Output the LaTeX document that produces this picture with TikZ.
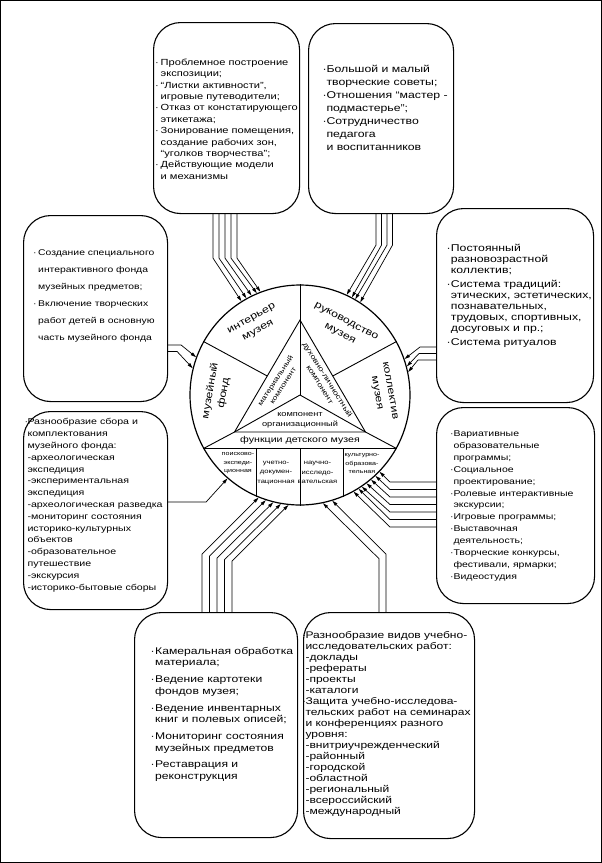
\documentclass[tikz,border=0pt]{standalone}
\usepackage{fontspec}
\setmainfont{Liberation Sans}[FakeStretch=1.25]
\usetikzlibrary{arrows.meta,calc}
\newlength\bulw
\newcommand\bul{\makebox[\bulw][l]{·}}
\newcommand\idt{\hspace*{\bulw}}
\newcommand\myfs[3]{\fontsize{#1}{#2}\selectfont\setlength\bulw{#3}}
\newcommand\mystrut{\rule{0pt}{9.5pt}}
\begin{document}
\begin{tikzpicture}[x=1pt,y=-1pt,
  box/.style={draw, line width=1.1pt, rounded corners=27pt, inner sep=0pt, anchor=north west},
  txt/.style={anchor=north west, inner sep=0pt, align=left},
  arr/.style={line width=0.7pt, -{Triangle[length=5.5pt,width=3.2pt]}},
  lab/.style={inner sep=0pt, align=center},
  ln/.style={line width=0.9pt}]
\useasboundingbox (0,0) rectangle (602,863);
\draw[line width=1pt] (0.5,0.5) rectangle (601.5,862.5);

% boxes
\node[box, minimum width=146pt, minimum height=191pt] (b1) at (153,22) {};
\node[box, minimum width=145pt, minimum height=190pt] (b2) at (308,23) {};
\node[box, minimum width=144pt, minimum height=186pt] (b3) at (23,215) {};
\node[box, minimum width=157pt, minimum height=194pt] (b4) at (436,208) {};
\node[box, minimum width=144pt, minimum height=198pt] (b5) at (23,411) {};
\node[box, minimum width=158pt, minimum height=196pt] (b6) at (436,407) {};
\node[box, minimum width=163pt, minimum height=225pt] (b7) at (134,612) {};
\node[box, minimum width=171pt, minimum height=226pt] (b8) at (303,612) {};

% texts
\node[txt, font=\myfs{8.87}{11.4}{5.5pt}] (t1) at (155,55.5) {\mystrut\bul Проблемное построение\\
\idt экспозиции;\\
\bul “Листки активности”,\\
\idt игровые путеводители;\\
\bul Отказ от констатирующего\\
\idt этикетажа;\\
\bul Зонирование помещения,\\
\idt создание рабочих зон,\\
\idt “уголков творчества”;\\
\bul Действующие модели\\
\idt и механизмы};

\node[txt, font=\myfs{9.82}{13.1}{3.8pt}] (t2) at (322.5,62.5) {\mystrut\bul Большой и малый\\
\idt творческие советы;\\
\bul Отношения “мастер -\\
\idt подмастерье”;\\
\bul Сотрудничество\\
\idt педагога\\
\idt и воспитанников};

\node[txt, font=\myfs{8.31}{17}{5pt}] (t3) at (33,245.5) {\mystrut\bul Создание специального\\
\idt интерактивного фонда\\
\idt музейных предметов;\\
\bul Включение творческих\\
\idt работ детей в основную\\
\idt часть музейного фонда};

\node[txt, font=\myfs{9.82}{11.2}{4.2pt}] (t4) at (446.5,241.8) {\mystrut\bul Постоянный\\
\idt разновозрастной\\
\idt коллектив;\\[2pt]
\bul Система традиций:\\
\idt этических, эстетических,\\
\idt познавательных,\\
\idt трудовых, спортивных,\\
\idt досуговых и пр.;\\[2pt]
\bul Система ритуалов};

\node[txt, font=\myfs{8.5}{11.8}{3pt}] (t5) at (24.3,415.2) {\mystrut\bul Разнообразие сбора и\\
\idt комплектования\\
\idt музейного фонда:\\
\idt -археологическая\\
\idt экспедиция\\
\idt -экспериментальная\\
\idt экспедиция\\
\idt -археологическая разведка\\
\idt -мониторинг состояния\\
\idt историко-культурных\\
\idt объектов\\
\idt -образовательное\\
\idt путешествие\\
\idt -экскурсия\\
\idt -историко-бытовые сборы};

\node[txt, font=\myfs{8.4}{11.9}{3.3pt}] (t6) at (450,426.8) {\mystrut\bul Вариативные\\
\idt образовательные\\
\idt программы;\\
\bul Социальное\\
\idt проектирование;\\
\bul Ролевые интерактивные\\
\idt экскурсии;\\
\bul Игровые программы;\\
\bul Выставочная\\
\idt деятельность;\\
\bul Творческие конкурсы,\\
\idt фестивали, ярмарки;\\
\bul Видеостудия};

\node[txt, font=\myfs{9.72}{11.7}{4.5pt}] (t7) at (150.5,644.5) {\mystrut\bul Камеральная обработка\\
\idt материала;\\[5pt]
\bul Ведение картотеки\\
\idt фондов музея;\\[5pt]
\bul Ведение инвентарных\\
\idt книг и полевых описей;\\[5pt]
\bul Мониторинг состояния\\
\idt музейных предметов\\[5pt]
\bul Реставрация и\\
\idt реконструкция};

\node[txt, font=\myfs{9.63}{11.04}{3.3pt}] (t8) at (302,628.5) {\mystrut\bul Разнообразие видов учебно-\\
\idt исследовательских работ:\\
\idt -доклады\\
\idt -рефераты\\
\idt -проекты\\
\idt -каталоги\\
\bul Защита учебно-исследова-\\
\idt тельских работ на семинарах\\
\idt и конференциях разного\\
\idt уровня:\\
\idt -внитриучрежденческий\\
\idt -районный\\
\idt -городской\\
\idt -областной\\
\idt -региональный\\
\idt -всероссийский\\
\idt -международный};

% central circle
\node[circle, draw, line width=1.2pt, minimum size=220pt, inner sep=0pt] (c) at (300,395) {};
\coordinate (T) at (300,320);
\coordinate (BL) at (234.5,432);
\coordinate (BR) at (365.5,432);
\draw[ln] (c.90) -- (T);
\draw[ln] (T) -- (BL) -- (BR) -- cycle;
\draw[ln] (c.center) -- (T);
\draw[ln] (c.center) -- (BL);
\draw[ln] (c.center) -- (BR);
\draw[ln] (c.151) -- ($(T)!0.5!(BL)$);
\draw[ln] (c.29) -- ($(T)!0.5!(BR)$);
\draw[ln] (BL) -- (c.209);
\draw[ln] (BR) -- (c.331);
\draw[ln] (c.209) -- (c.331);
\draw[ln] (c.247) -- (c.247 |- c.209);
\draw[ln] (c.270) -- (c.270 |- c.209);
\draw[ln] (c.293.6) -- (c.293.6 |- c.209);

% labels
\node[lab, rotate=29, font=\myfs{9.9}{13.5}{0pt}] (l1) at (255,325) {интерьер\\музея};
\node[lab, rotate=-28, font=\myfs{9.9}{13.5}{0pt}] (l2) at (343,328) {руководство\\музея};
\node[lab, rotate=80, font=\myfs{9.9}{13.5}{0pt}] (l3) at (217,392) {музейный\\фонд};
\node[lab, rotate=-80, font=\myfs{9.9}{13.5}{0pt}] (l4) at (383,392) {коллектив\\музея};
\node[lab, rotate=57, font=\myfs{6.9}{9}{0pt}] (l5) at (279,383) {материальный\\компонент};
\node[lab, rotate=-58, font=\myfs{7.2}{9}{0pt}] (l6) at (324,382) {духовно-личностный\\компонент};
\node[lab, font=\myfs{7.4}{10}{0pt}] (l7) at (300,420) {компонент\\организационный};
\node[lab, font=\myfs{8.5}{10}{0pt}] (l8) at (300,440.5) {функции детского музея};
\node[lab, font=\myfs{5.7}{8.5}{0pt}] (k1) at (238,463.5) {поисково-\\экспеди-\\ционная};
\node[lab, font=\myfs{6.1}{9.5}{0pt}] (k2) at (276,472.5) {учетно-\\докумен-\\тационная};
\node[lab, font=\myfs{6.1}{9.5}{0pt}] (k3) at (317.5,472.5) {научно-\\исследо-\\вательская};
\node[lab, font=\myfs{5.7}{8.5}{0pt}] (k4) at (362,463.5) {культурно-\\образова-\\тельная};

% arrows
\foreach \i/\a in {0/122,1/119.25,2/116.5,3/113.75,4/111}
  \draw[arr] ([xshift={60pt+\i*6pt}]b1.south west) -- ++(0,44) -- (c.\a);
\foreach \o/\a in {68/65,73.5/62.5,79/60,84.5/57.5}
  \draw[arr] ([xshift=\o pt]b2.south west) -- ++(0,31) -- (c.\a);
\draw[arr] ([yshift=-130pt]b3.north east) -- ++(13,0) -- (c.160);
\draw[arr] ([yshift=-136.5pt]b3.north east) -- ++(9,0) -- (c.166);
\foreach \o/\h/\a in {139/16/19,145.5/17/15.5,152/18/12}
  \draw[arr] ([yshift=-\o pt]b4.north west) -- ++(-\h,0) -- (c.\a);
\draw[arr] ([yshift=-91pt]b5.north east) -- ++(38,0) -- (c.229);
\foreach \o/\u/\a in {68/58/248,75.5/56/252,83/54/256,90.5/52.3/260,98/51/264}
  \draw[arr] ([xshift=\o pt]b7.north west) -- ++(0,-\u) -- (c.\a);
\draw[arr] ([xshift=76pt]b8.north west) -- ++(0,-53.3) -- (c.282);
\draw[arr] ([xshift=83pt]b8.north west) -- ++(0,-58) -- (c.287);
\foreach \i [evaluate=\i as \a using 316.1-2.8*\i] in {0,...,6}
  \draw[arr] ([yshift={-75pt-\i*7.5pt}]b6.north west) -- ++(-46,0) -- (c.\a);
\end{tikzpicture}
\end{document}
